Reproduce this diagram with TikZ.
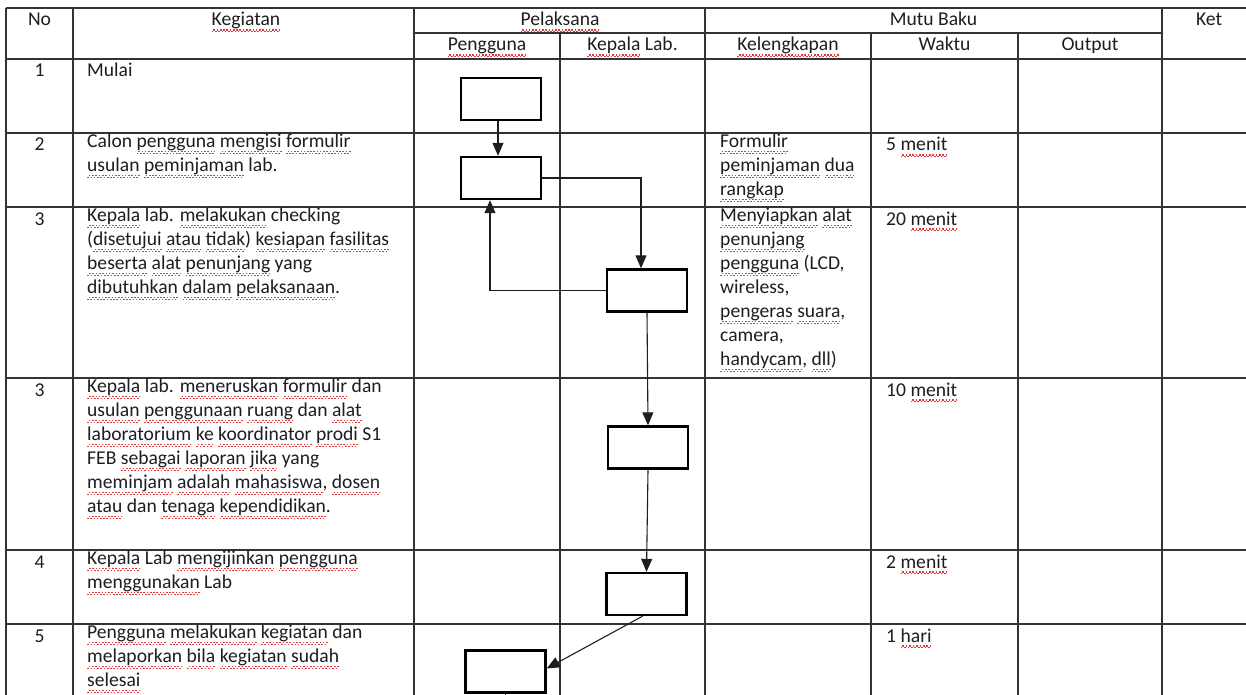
\documentclass[tikz,border=0pt]{standalone}
\usepackage{fontspec}
\setmainfont{Carlito}
\usetikzlibrary{arrows.meta}
\definecolor{Ink}{HTML}{1E1E1E}
\definecolor{Grid}{HTML}{333333}
\definecolor{Wave}{HTML}{E0393B}
\newsavebox\sqbox
\newcommand\sq[1]{\leavevmode\sbox\sqbox{#1}\rlap{\textcolor{Wave}{\hbox to \wd\sqbox{\xleaders\hbox{\rule[-6pt]{1.6pt}{1.2pt}\rule[-4.6pt]{1.6pt}{1.2pt}}\hfil}}}\usebox\sqbox}

\begin{document}
\begin{tikzpicture}[x=1pt,y=-1pt,>={Triangle[length=13pt,width=11pt]},
  cell/.style={inner sep=0pt,text=Ink,font=\fontsize{19.6}{24}\selectfont,align=left,execute at begin node=\strut},
  flowbox/.style={draw=black,line width=2.4pt,minimum width=80pt,minimum height=42pt,inner sep=0pt},
  grid/.style={Grid,line width=1.5pt},
  flow/.style={->,Ink,line width=1.1pt}]

\useasboundingbox (0,0) rectangle (1246,695);
\fill[white] (0,0) rectangle (1246,695);
\clip (0,0) rectangle (1246,695);

% table lines
\draw[grid] (6,8) -- (1260,8);
\draw[grid] (414,33) -- (1162,33);
\draw[grid] (6,59) -- (1260,59);
\draw[grid] (6,133) -- (1260,133);
\draw[grid] (6,207) -- (1260,207);
\draw[grid] (6,378) -- (1260,378);
\draw[grid] (6,550) -- (1260,550);
\draw[grid] (6,624) -- (1260,624);

\draw[grid] (6,8) -- (6,700);
\draw[grid] (73,8) -- (73,700);
\draw[grid] (414,8) -- (414,700);
\draw[grid] (560,33) -- (560,700);
\draw[grid] (705,8) -- (705,700);
\draw[grid] (871,33) -- (871,700);
\draw[grid] (1018,33) -- (1018,700);
\draw[grid] (1162,8) -- (1162,700);

% header
\node[cell,anchor=north] (hno) at (39.5,9) {No};
\node[cell,anchor=north] (hkeg) at (246,9) {\sq{Kegiatan}};
\node[cell,anchor=north] (hpel) at (560,9) {\sq{Pelaksana}};
\node[cell,anchor=north] (hmutu) at (933.5,9) {Mutu Baku};
\node[cell,anchor=north] (hket) at (1209,9) {Ket};
\node[cell,anchor=north] (hpeng) at (487,34) {\sq{Pengguna}};
\node[cell,anchor=north] (hkep) at (632.5,34) {\sq{Kepala} Lab.};
\node[cell,anchor=north] (hkel) at (788,34) {\sq{Kelengkapan}};
\node[cell,anchor=north] (hwak) at (944.5,34) {Waktu};
\node[cell,anchor=north] (hout) at (1090,34) {Output};

% no
\node[cell,anchor=north] (n1) at (39.5,60) {1};
\node[cell,anchor=north] (n2) at (39.5,134) {2};
\node[cell,anchor=north] (n3) at (39.5,208) {3};
\node[cell,anchor=north] (n4) at (39.5,379) {3};
\node[cell,anchor=north] (n5) at (39.5,551) {4};
\node[cell,anchor=north] (n6) at (39.5,625) {5};

% kegiatan
\node[cell,anchor=north west] (k1) at (87,60) {Mulai};
\node[cell,anchor=north west] (k2) at (87,134) {Calon \sq{pengguna} \sq{mengisi} \sq{formulir}\\
  \sq{usulan} \sq{peminjaman} lab.};
\node[cell,anchor=north west] (k3) at (87,208) {\sq{Kepala} lab. \sq{melakukan} checking\\
  (\sq{disetujui} \sq{atau} \sq{tidak}) \sq{kesiapan} \sq{fasilitas}\\
  \sq{beserta} \sq{alat} \sq{penunjang} yang\\
  \sq{dibutuhkan} \sq{dalam} \sq{pelaksanaan}.};
\node[cell,anchor=north west] (k4) at (87,379) {\sq{Kepala} lab. \sq{meneruskan} \sq{formulir} dan\\
  \sq{usulan} \sq{penggunaan} \sq{ruang} dan \sq{alat}\\
  \sq{laboratorium} \sq{ke} \sq{koordinator} \sq{prodi} S1\\
  FEB \sq{sebagai} \sq{laporan} \sq{jika} yang\\
  \sq{meminjam} \sq{adalah} \sq{mahasiswa}, \sq{dosen}\\
  \sq{atau} dan \sq{tenaga} \sq{kependidikan}.};
\node[cell,anchor=north west] (k5) at (87,551) {\sq{Kepala} Lab \sq{mengijinkan} \sq{pengguna}\\
  \sq{menggunakan} Lab};
\node[cell,anchor=north west] (k6) at (87,625) {\sq{Pengguna} \sq{melakukan} \sq{kegiatan} dan\\
  \sq{melaporkan} \sq{bila} \sq{kegiatan} \sq{sudah}\\
  \sq{selesai}};

% kelengkapan
\node[cell,anchor=north west] (l2) at (720,134) {\sq{Formulir}\\ \sq{peminjaman} \sq{dua}\\ \sq{rangkap}};
\node[cell,anchor=north west] (l3) at (720,208) {\sq{Menyiapkan} \sq{alat}\\ \sq{penunjang}\\
  \sq{pengguna} (LCD,\\ wireless,\\ \sq{pengeras} \sq{suara},\\ camera,\\ \sq{handycam}, \sq{dll})};

% waktu
\node[cell,anchor=north west] (w2) at (886,134) {5 \sq{menit}};
\node[cell,anchor=north west] (w3) at (886,208) {20 \sq{menit}};
\node[cell,anchor=north west] (w4) at (886,379) {10 \sq{menit}};
\node[cell,anchor=north west] (w5) at (886,551) {2 \sq{menit}};
\node[cell,anchor=north west] (w6) at (886,625) {1 \sq{hari}};

% flow
\node[flowbox] (b1) at (501,99) {};
\node[flowbox] (b2) at (501,178) {};
\node[flowbox] (b3) at (647,290.5) {};
\node[flowbox] (b4) at (648,447.5) {};
\node[flowbox] (b5) at (646.5,594) {};
\node[flowbox] (b6) at (505.5,671.5) {};
\coordinate (bend) at (505.5,700);

\draw[flow] ([xshift=-3pt]b1.south) -- ([xshift=-3pt]b2.north);
\draw[flow] (b2.east) -| ([xshift=-6pt]b3.north);
\draw[flow] (b3.west) -| ([xshift=-11pt]b2.south);
\draw[flow] (b3.south) -- (b4.north);
\draw[flow] (b4.south) -- (b5.north);
\draw[flow] ([xshift=-4pt]b5.south) -- ([yshift=3pt]b6.east);
\draw[Ink,line width=1.1pt] (b6.south) -- (bend);

\end{tikzpicture}
\end{document}
